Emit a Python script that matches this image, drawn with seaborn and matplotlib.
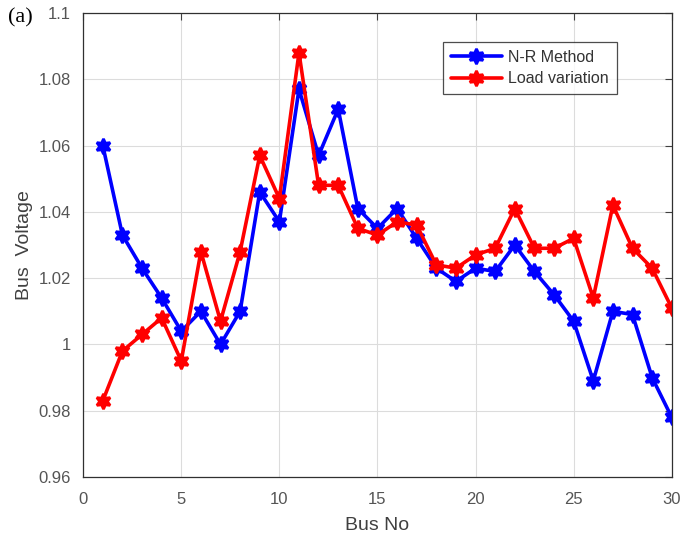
import matplotlib
matplotlib.use('Agg')
import matplotlib.pyplot as plt
import seaborn as sns

bus_no = list(range(1, 31))
nr_method = [1.060, 1.033, 1.023, 1.014, 1.004, 1.010, 1.000, 1.010, 1.046, 1.037,
             1.077, 1.057, 1.071, 1.041, 1.035, 1.041, 1.032, 1.023, 1.019, 1.023,
             1.022, 1.030, 1.022, 1.015, 1.007, 0.989, 1.010, 1.009, 0.990, 0.978]
load_variation = [0.983, 0.998, 1.003, 1.008, 0.995, 1.028, 1.007, 1.028, 1.057, 1.044,
                  1.088, 1.048, 1.048, 1.035, 1.033, 1.037, 1.036, 1.024, 1.023, 1.027,
                  1.029, 1.041, 1.029, 1.029, 1.032, 1.014, 1.042, 1.029, 1.023, 1.011]

sns.set_style('white')
plt.rcParams['font.family'] = ['Liberation Sans', 'DejaVu Sans']

fig = plt.figure(figsize=(6.99, 5.39), dpi=100)
ax = fig.add_axes([0.119, 0.115, 0.842, 0.861])

for vals, lab, col in [(nr_method, 'N-R Method', '#0000ff'),
                       (load_variation, 'Load variation', '#ff0000')]:
    sns.lineplot(x=bus_no, y=vals, label=lab, color=col, linestyle='-',
                 marker=(6, 1, 0), markersize=11, markeredgewidth=2,
                 markeredgecolor=col, markerfacecolor=col,
                 linewidth=2.6, ax=ax)

ax.set_xlim(0, 30)
ax.set_ylim(0.96, 1.1)
ax.set_xticks([0, 5, 10, 15, 20, 25, 30])
ax.set_yticks([0.96, 0.98, 1.0, 1.02, 1.04, 1.06, 1.08, 1.1])
ax.set_yticklabels(['0.96', '0.98', '1', '1.02', '1.04', '1.06', '1.08', '1.1'])
ax.grid(True, color='#dcdcdc', linewidth=0.8)
ax.tick_params(direction='in', top=True, right=True, length=5, width=0.8,
               labelsize=12, colors='#404040', labelcolor='#555555', pad=9)
ax.tick_params(axis='x', pad=11)
for s in ax.spines.values():
    s.set_color('#303030')
    s.set_linewidth(0.9)
ax.set_xlabel('Bus No', fontsize=14, color='#404040', labelpad=7)
ax.set_ylabel('Bus  Voltage', fontsize=14, color='#404040', labelpad=4)

leg = ax.legend(loc='upper right', bbox_to_anchor=(0.92, 0.955), fontsize=11.5,
                frameon=True, fancybox=False, edgecolor='#202020',
                handlelength=3.2, borderpad=0.5, labelspacing=0.4, handletextpad=0.4)
leg.get_frame().set_linewidth(0.9)
for t in leg.get_texts():
    t.set_color('#333333')

fig.text(0.012, 0.958, '(a)', fontsize=16, family='Liberation Serif', color='black')

fig.savefig('out.png', dpi=100)
